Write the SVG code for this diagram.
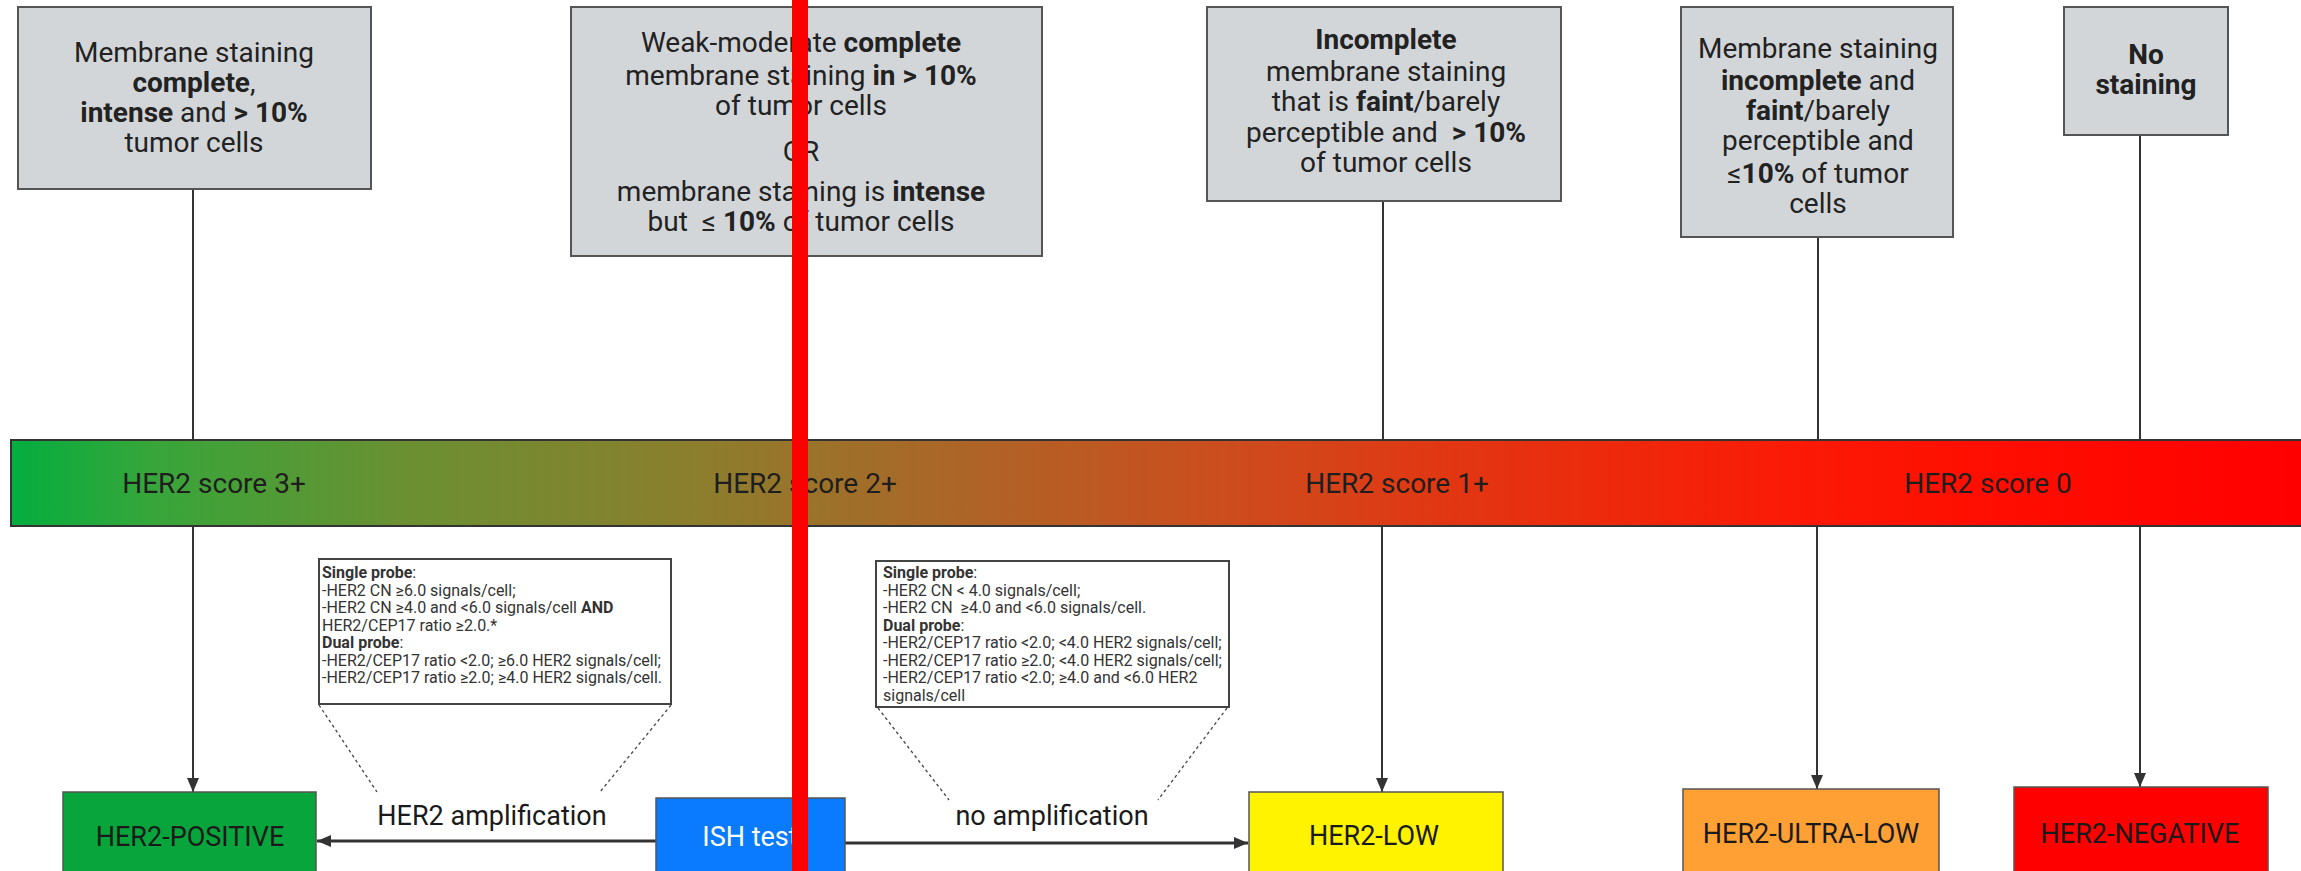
<svg xmlns="http://www.w3.org/2000/svg" width="2301" height="871" viewBox="0 0 2301 871">
<defs>
<style>
.box{fill:#d3d6d9;stroke:#555;stroke-width:2}
.t{font-family:Roboto,"Liberation Sans",sans-serif;font-size:28px;fill:#222;text-anchor:middle}
.b{font-weight:700}
.bl{font-family:Roboto,"Liberation Sans",sans-serif;font-size:28px;fill:#1e1e1e;text-anchor:middle}
.info{fill:#fff;stroke:#444;stroke-width:2}
.it{font-family:Roboto,"Liberation Sans",sans-serif;font-size:16px;fill:#333}
.nl{font-family:Roboto,"Liberation Sans",sans-serif;font-size:27px;fill:#1a1a1a;text-anchor:middle}
.res{stroke:#555;stroke-width:1.5}
.conn{stroke:#333;stroke-width:2;fill:none}
.thick{stroke:#333;stroke-width:3;fill:none}
.dot{stroke:#444;stroke-width:1.3;stroke-dasharray:3 3;fill:none}
</style>
<linearGradient id="barGrad" gradientUnits="userSpaceOnUse" x1="11" y1="0" x2="2301" y2="0">
<stop offset="0" stop-color="#04ad3f"/>
<stop offset="0.06" stop-color="#36a63a"/>
<stop offset="0.17" stop-color="#6a9032"/>
<stop offset="0.30" stop-color="#8c7e2d"/>
<stop offset="0.39" stop-color="#a66a29"/>
<stop offset="0.52" stop-color="#ca4f1f"/>
<stop offset="0.63" stop-color="#e23612"/>
<stop offset="0.78" stop-color="#fb1a05"/>
<stop offset="0.87" stop-color="#ff0d00"/>
<stop offset="1" stop-color="#ff0000"/>
</linearGradient>
<marker id="ah" markerUnits="userSpaceOnUse" markerWidth="14" markerHeight="12" refX="14" refY="6" orient="auto" viewBox="0 0 14 12">
<path d="M0,0 L14,6 L0,12 z" fill="#333"/>
</marker>
</defs>
<rect width="2301" height="871" fill="#fff"/>

<g id="connectors">
<line class="conn" x1="193" y1="189" x2="193" y2="440"/>
<line class="conn" x1="193" y1="526" x2="193" y2="792" marker-end="url(#ah)"/>
<line class="conn" x1="800" y1="256" x2="800" y2="440"/>
<line class="conn" x1="800" y1="526" x2="800" y2="798" marker-end="url(#ah)"/>
<line class="conn" x1="1383" y1="201" x2="1383" y2="440"/>
<line class="conn" x1="1382" y1="526" x2="1382" y2="792" marker-end="url(#ah)"/>
<line class="conn" x1="1818" y1="237" x2="1818" y2="440"/>
<line class="conn" x1="1817" y1="526" x2="1817" y2="789" marker-end="url(#ah)"/>
<line class="conn" x1="2140" y1="135" x2="2140" y2="440"/>
<line class="conn" x1="2140" y1="526" x2="2140" y2="787" marker-end="url(#ah)"/>
<line class="thick" x1="656" y1="841" x2="317" y2="841" marker-end="url(#ah)"/>
<line class="thick" x1="845" y1="843" x2="1248" y2="843" marker-end="url(#ah)"/>
<line class="dot" x1="319" y1="705" x2="377" y2="792"/>
<line class="dot" x1="671" y1="705" x2="600" y2="792"/>
<line class="dot" x1="878" y1="708" x2="949" y2="800"/>
<line class="dot" x1="1227" y1="708" x2="1158" y2="800"/>
<text class="nl" x="492" y="825">HER2 amplification</text>
<text class="nl" x="1052" y="825">no amplification</text>
</g>

<g id="box-3plus">
<rect class="box" x="18" y="7" width="353" height="182"/>
<text class="t" x="194" y="62">Membrane staining</text>
<text class="t" x="194" y="92"><tspan class="b">complete</tspan>,</text>
<text class="t" x="194" y="122"><tspan class="b">intense</tspan> and <tspan class="b">&gt; 10%</tspan></text>
<text class="t" x="194" y="152">tumor cells</text>
</g>

<g id="box-2plus">
<rect class="box" x="571" y="7" width="471" height="249"/>
<text class="t" x="801" y="52">Weak-moderate <tspan class="b">complete</tspan></text>
<text class="t" x="801" y="85">membrane staining <tspan class="b">in &gt; 10%</tspan></text>
<text class="t" x="801" y="115">of tumor cells</text>
<text class="t" x="801" y="161">OR</text>
<text class="t" x="801" y="201">membrane staining is <tspan class="b">intense</tspan></text>
<text class="t" x="801" y="231" xml:space="preserve">but  ≤ <tspan class="b">10%</tspan> of tumor cells</text>
</g>

<g id="box-1plus">
<rect class="box" x="1207" y="7" width="354" height="194"/>
<text class="t" x="1386" y="49"><tspan class="b">Incomplete</tspan></text>
<text class="t" x="1386" y="81">membrane staining</text>
<text class="t" x="1386" y="111">that is <tspan class="b">faint</tspan>/barely</text>
<text class="t" x="1386" y="142" xml:space="preserve">perceptible and  <tspan class="b">&gt; 10%</tspan></text>
<text class="t" x="1386" y="172">of tumor cells</text>
</g>

<g id="box-ultralow">
<rect class="box" x="1681" y="7" width="272" height="230"/>
<text class="t" x="1818" y="58">Membrane staining</text>
<text class="t" x="1818" y="90"><tspan class="b">incomplete</tspan> and</text>
<text class="t" x="1818" y="120"><tspan class="b">faint</tspan>/barely</text>
<text class="t" x="1818" y="150">perceptible and</text>
<text class="t" x="1818" y="183">≤<tspan class="b">10%</tspan> of tumor</text>
<text class="t" x="1818" y="213">cells</text>
</g>

<g id="box-0">
<rect class="box" x="2064" y="7" width="164" height="128"/>
<text class="t b" x="2146" y="64">No</text>
<text class="t b" x="2146" y="94">staining</text>
</g>

<g id="score-bar">
<rect x="11" y="440" width="2300" height="86" fill="url(#barGrad)" stroke="#333" stroke-width="2"/>
<text class="bl" x="214" y="493">HER2 score 3+</text>
<text class="bl" x="805" y="493">HER2 score 2+</text>
<text class="bl" x="1397" y="493">HER2 score 1+</text>
<text class="bl" x="1988" y="493">HER2 score 0</text>
</g>

<g id="info-amplification">
<rect class="info" x="319" y="559" width="352" height="145"/>
<text class="it" x="322" y="578"><tspan class="b">Single probe</tspan>:</text>
<text class="it" x="322" y="595.5">-HER2 CN ≥6.0 signals/cell;</text>
<text class="it" x="322" y="613">-HER2 CN ≥4.0 and &lt;6.0 signals/cell <tspan class="b">AND</tspan></text>
<text class="it" x="322" y="630.5">HER2/CEP17 ratio ≥2.0.*</text>
<text class="it" x="322" y="648"><tspan class="b">Dual probe</tspan>:</text>
<text class="it" x="322" y="665.5">-HER2/CEP17 ratio &lt;2.0; ≥6.0 HER2 signals/cell;</text>
<text class="it" x="322" y="683">-HER2/CEP17 ratio ≥2.0; ≥4.0 HER2 signals/cell.</text>
</g>

<g id="info-no-amplification">
<rect class="info" x="876" y="561" width="353" height="146"/>
<text class="it" x="883" y="578"><tspan class="b">Single probe</tspan>:</text>
<text class="it" x="883" y="595.5">-HER2 CN &lt; 4.0 signals/cell;</text>
<text class="it" x="883" y="613" xml:space="preserve">-HER2 CN  ≥4.0 and &lt;6.0 signals/cell.</text>
<text class="it" x="883" y="630.5"><tspan class="b">Dual probe</tspan>:</text>
<text class="it" x="883" y="648">-HER2/CEP17 ratio &lt;2.0; &lt;4.0 HER2 signals/cell;</text>
<text class="it" x="883" y="665.5">-HER2/CEP17 ratio ≥2.0; &lt;4.0 HER2 signals/cell;</text>
<text class="it" x="883" y="683">-HER2/CEP17 ratio &lt;2.0; ≥4.0 and &lt;6.0 HER2</text>
<text class="it" x="883" y="700.5">signals/cell</text>
</g>

<g id="her2-positive">
<rect class="res" x="63" y="792" width="253" height="110" fill="#07a53b"/>
<text class="nl" x="190" y="846">HER2-POSITIVE</text>
</g>
<g id="ish-test">
<rect class="res" x="656" y="798" width="189" height="110" fill="#0a7bff"/>
<text class="nl" x="750" y="846" style="fill:#fff">ISH test</text>
</g>
<g id="her2-low">
<rect class="res" x="1249" y="792" width="254" height="110" fill="#fff300"/>
<text class="nl" x="1374" y="845">HER2-LOW</text>
</g>
<g id="her2-ultra-low">
<rect class="res" x="1683" y="789" width="256" height="110" fill="#ffa035"/>
<text class="nl" x="1811" y="843">HER2-ULTRA-LOW</text>
</g>
<g id="her2-negative">
<rect class="res" x="2014" y="787" width="254" height="110" fill="#ff0000"/>
<text class="nl" x="2140" y="843">HER2-NEGATIVE</text>
</g>

<rect id="red-marker" x="792" y="0" width="16" height="871" fill="#ff0000"/>
</svg>
